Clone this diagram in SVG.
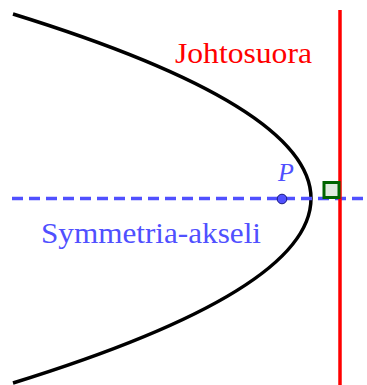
<svg xmlns="http://www.w3.org/2000/svg" width="367" height="385" viewBox="0 0 367 385">
<style>
.lbl{font-family:"Liberation Serif","DejaVu Serif",serif;font-size:30px}
</style>
<rect width="367" height="385" fill="#ffffff"/>
<g id="parabola">
<path d="M13,14 Q609,198.5 13,383" fill="none" stroke="#000000" stroke-width="3.5"/>
</g>
<g id="connectors">
<line id="axis" x1="12" y1="198.5" x2="367" y2="198.5" stroke="#5050ff" stroke-width="3.5" stroke-dasharray="11,6"/>
<line id="directrix" x1="340" y1="10" x2="340" y2="385" stroke="#ff0000" stroke-width="3.5"/>
</g>
<g id="right-angle">
<rect x="324" y="182.5" width="15" height="15" fill="#e0ebe0" stroke="#006400" stroke-width="3"/>
</g>
<g id="focus">
<circle cx="282" cy="199" r="4.8" fill="#5050ff" stroke="#1a1a80" stroke-width="1"/>
<text x="278" y="181" font-family="Liberation Serif, DejaVu Serif, serif" font-style="italic" font-size="26" fill="#5050ff">P</text>
</g>
<g id="label-directrix">
<text class="lbl" x="175" y="63" fill="#ff0000" textLength="137" lengthAdjust="spacingAndGlyphs">Johtosuora</text>
</g>
<g id="label-axis">
<text class="lbl" x="41" y="243" fill="#5050ff" textLength="220" lengthAdjust="spacingAndGlyphs">Symmetria-akseli</text>
</g>
</svg>
